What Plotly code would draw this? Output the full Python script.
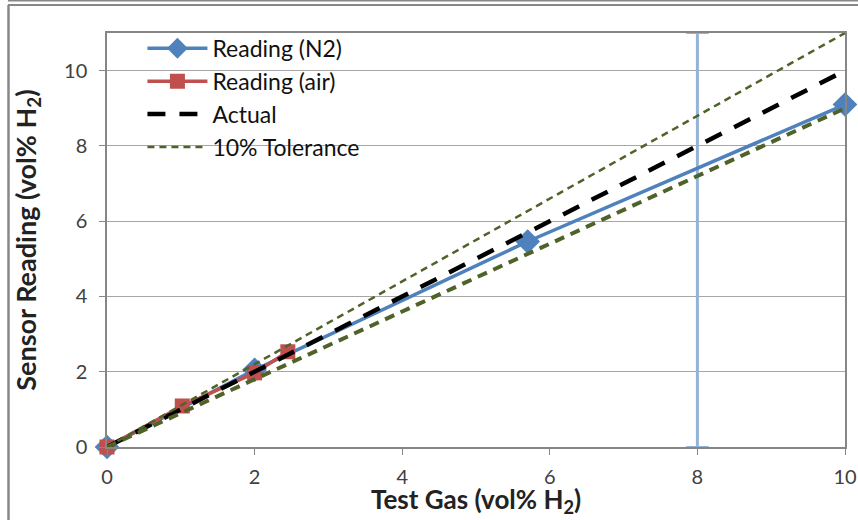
import plotly.graph_objects as go

# Data
n2_x = [0, 2, 5.7, 10]
n2_y = [0, 2.05, 5.46, 9.1]
air_x = [0, 1.02, 2.0, 2.45]
air_y = [0, 1.09, 1.97, 2.53]
actual_x = [0, 10]
actual_y = [0, 10]
tol_hi_y = [0, 11]
tol_lo_y = [0, 9]
marker_line_x = [8, 8]
marker_line_y = [-0.25, 11.25]
marker_cap_y = [0, 11]
x_ticks = [0, 2, 4, 6, 8, 10]
y_ticks = [0, 2, 4, 6, 8, 10]

BLUE = "#4F81BD"
RED = "#C0504D"
GREEN = "#4F6228"
LBLUE = "#95B3D7"
FONT = "Lato"

fig = go.Figure()

# vertical marker line at x=8
fig.add_trace(go.Scatter(x=marker_line_x, y=marker_line_y, mode="lines",
                         line=dict(color=LBLUE, width=3), showlegend=False,
                         cliponaxis=False, hoverinfo="skip"))
fig.add_trace(go.Scatter(x=marker_line_x, y=marker_cap_y, mode="markers",
                         marker=dict(symbol="line-ew", size=16,
                                     line=dict(color=LBLUE, width=2)),
                         showlegend=False, cliponaxis=False, hoverinfo="skip"))

fig.add_trace(go.Scatter(x=n2_x, y=n2_y, mode="lines+markers", name="Reading (N2)",
                         line=dict(color=BLUE, width=3.5),
                         marker=dict(symbol="diamond", size=19, color=BLUE),
                         cliponaxis=False))
fig.add_trace(go.Scatter(x=air_x, y=air_y, mode="lines+markers", name="Reading (air)",
                         line=dict(color=RED, width=3.5),
                         marker=dict(symbol="square", size=15, color=RED),
                         cliponaxis=False))
fig.add_trace(go.Scatter(x=actual_x, y=actual_y, mode="lines", name="Actual",
                         line=dict(color="black", width=4.5, dash="18px,14px")))
fig.add_trace(go.Scatter(x=actual_x, y=tol_hi_y, mode="lines", name="10% Tolerance",
                         line=dict(color=GREEN, width=2.5, dash="7px,5px")))
fig.add_trace(go.Scatter(x=actual_x, y=tol_lo_y, mode="lines", name="10% Tolerance (low)",
                         line=dict(color=GREEN, width=4, dash="10px,7px"),
                         showlegend=False))

axis_common = dict(showline=True, linecolor="#868686", linewidth=1.5, mirror=True,
                   ticks="outside", ticklen=6, tickcolor="#868686",
                   tickfont=dict(family=FONT, size=20, color="#404040"),
                   zeroline=False, automargin=False)

fig.update_layout(
    width=858, height=520,
    margin=dict(l=107, r=13, t=33, b=73),
    paper_bgcolor="white", plot_bgcolor="white",
    font=dict(family=FONT),
    xaxis=dict(range=[0, 10], tickvals=x_ticks, showgrid=False, ticklabelstandoff=5,
               **axis_common),
    yaxis=dict(range=[0, 11], tickvals=y_ticks, showgrid=True, gridcolor="#A6A6A6",
               gridwidth=1.2, ticklabelstandoff=8,
               title=dict(text="<b>Sensor Reading (vol% H<sub>2</sub>)</b>",
                          font=dict(family=FONT, size=27, color="#222"), standoff=20),
               **axis_common),
    legend=dict(x=0.048, y=1.015, xanchor="left", yanchor="top",
                bgcolor="rgba(0,0,0,0)", font=dict(family=FONT, size=23, color="#111"),
                tracegroupgap=0, itemwidth=60),
    annotations=[
        dict(text="<b>Test Gas (vol% H<sub>2</sub>)</b>", xref="paper", yref="paper",
             x=0.5, y=-72/414, xanchor="center", yanchor="bottom", showarrow=False,
             borderpad=0, font=dict(family=FONT, size=26, color="#222")),
    ],
    shapes=[
        dict(type="line", xref="paper", yref="paper", x0=-99/738, x1=1 + 13/738,
             y0=1 + 32.5/414, y1=1 + 32.5/414, line=dict(color="#888", width=2)),
        dict(type="line", xref="paper", yref="paper", x0=-99/738, x1=1 + 13/738,
             y0=1 + 28/414, y1=1 + 28/414, line=dict(color="#888", width=2)),
        dict(type="line", xref="paper", yref="paper", x0=-98.5/738, x1=-98.5/738,
             y0=1 + 28/414, y1=-73/414, line=dict(color="#888", width=2.5)),
    ],
)

fig.write_html("out.html", config={"displayModeBar": False},
               post_script="document.body.style.margin='0';")
